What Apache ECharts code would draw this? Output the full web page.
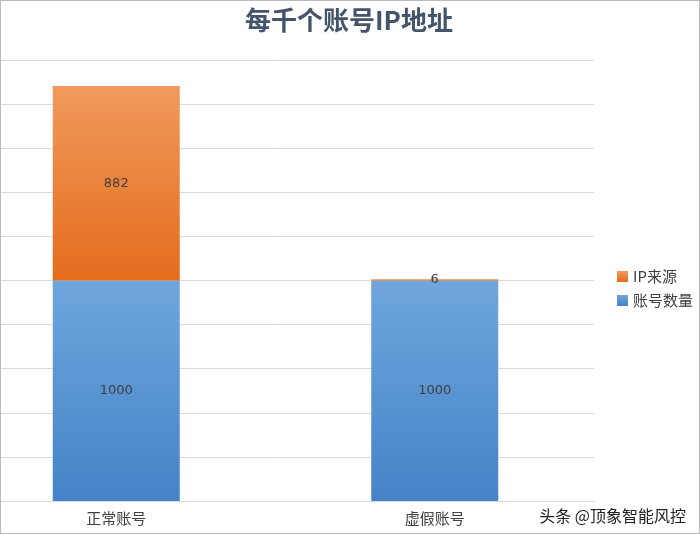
<!DOCTYPE html><html><head><meta charset="utf-8">
<script src="https://cdn.jsdelivr.net/npm/echarts@6/dist/echarts.min.js"></script>
<style>html,body{margin:0;padding:0;background:#fff}#w{width:700px;height:534px;box-sizing:border-box;border:1px solid #bbb;overflow:hidden;position:relative}#c{position:absolute;left:-44px;top:-1px;width:743px;height:534px}</style>
</head><body><div id="w"><div id="c"></div></div><script>
const categories=['正常账号','虚假账号'];
const accounts=[1000,1000];
const ipSources=[882,6];
const chart=echarts.init(document.getElementById('c'));
const grad=(a,b)=>new echarts.graphic.LinearGradient(0,0,0,1,[{offset:0,color:a},{offset:1,color:b}]);
const lbl={show:true,position:'inside',color:'#404040',fontSize:13,fontFamily:'DejaVu Sans'};
chart.setOption({
 animation:false,
 title:{text:'每千个账号IP地址',left:387,top:2,textAlign:'center',textStyle:{fontSize:26,fontWeight:'bold',color:'#44546a',fontFamily:'Noto Sans CJK SC'}},
 legend:{orient:'vertical',right:2,top:264,itemWidth:11,itemHeight:11,itemGap:9,icon:'rect',textStyle:{fontSize:15,color:'#404040',fontFamily:'Noto Sans CJK SC'},data:['IP来源','账号数量']},
 grid:{left:0,width:637,top:60,bottom:33},
 xAxis:{type:'category',data:categories,axisTick:{show:false},axisLine:{lineStyle:{color:'#d9d9d9'}},axisLabel:{fontSize:15,color:'#404040',margin:10,fontFamily:'Noto Sans CJK SC'}},
 yAxis:{type:'value',min:0,max:2000,interval:200,axisLabel:{show:false},splitLine:{lineStyle:{color:'#d9d9d9'}}},
 series:[
  {name:'账号数量',type:'bar',stack:'a',barWidth:127,data:accounts,itemStyle:{color:grad('#6fa6dd','#4483c7')},label:lbl},
  {name:'IP来源',type:'bar',stack:'a',data:ipSources,itemStyle:{color:grad('#f09a5c','#e56c1c')},label:lbl,labelLayout:{hideOverlap:false}}
 ],
 graphic:[{type:'text',right:14,bottom:10,style:{text:'头条 @顶象智能风控',fontSize:16,fill:'#222',fontFamily:'Noto Sans CJK SC'}}]
});
</script></body></html>
